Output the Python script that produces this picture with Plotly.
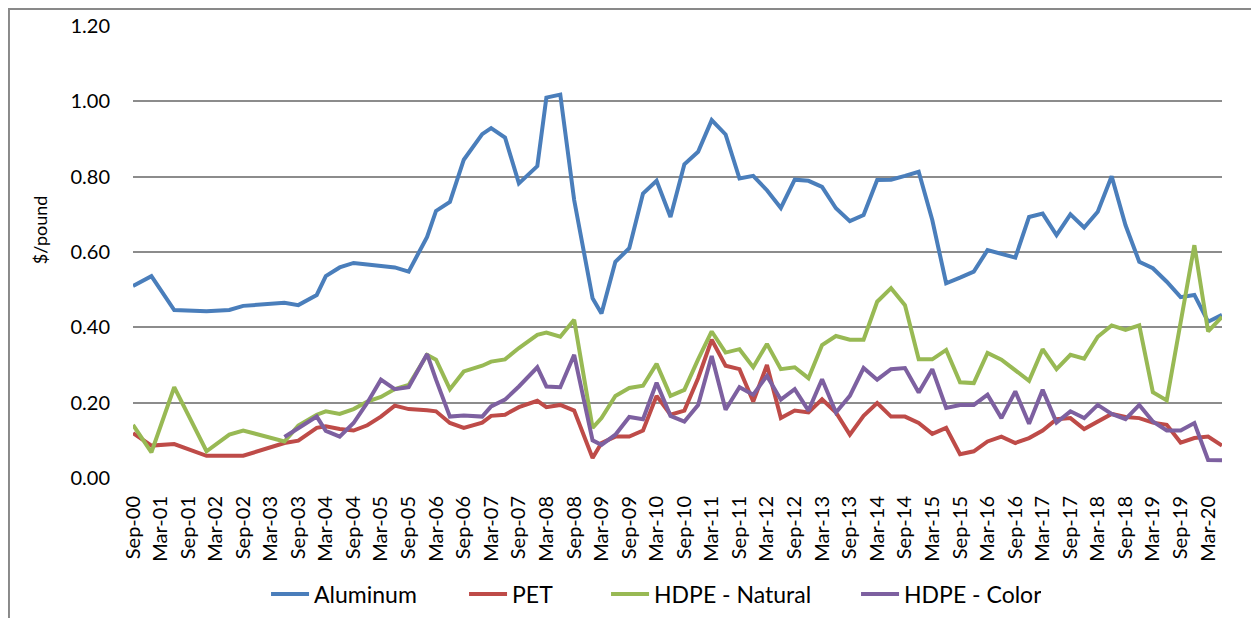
import plotly.graph_objects as go
import pandas as pd

DATES = ["2000-09", "2001-01", "2001-06", "2002-01", "2002-06", "2002-09", "2003-06", "2003-09",
         "2004-01", "2004-03", "2004-06", "2004-09", "2004-12", "2005-03", "2005-06", "2005-09",
         "2006-01", "2006-03", "2006-06", "2006-09", "2007-01", "2007-03", "2007-06", "2007-09",
         "2008-01", "2008-03", "2008-06", "2008-09", "2009-01", "2009-03", "2009-06", "2009-09",
         "2009-12", "2010-03", "2010-06", "2010-09", "2010-12", "2011-03", "2011-06", "2011-09",
         "2011-12", "2012-03", "2012-06", "2012-09", "2012-12", "2013-03", "2013-06", "2013-09",
         "2013-12", "2014-03", "2014-06", "2014-09", "2014-12", "2015-03", "2015-06", "2015-09",
         "2015-12", "2016-03", "2016-06", "2016-09", "2016-12", "2017-03", "2017-06", "2017-09",
         "2017-12", "2018-03", "2018-06", "2018-09", "2018-12", "2019-03", "2019-06", "2019-09",
         "2019-12", "2020-03", "2020-06"]

ALUMINUM = [0.510, 0.536, 0.446, 0.443, 0.446, 0.457, 0.465, 0.459,
            0.486, 0.536, 0.559, 0.571, 0.567, 0.564, 0.559, 0.548,
            0.640, 0.709, 0.733, 0.845, 0.913, 0.929, 0.904, 0.782,
            0.828, 1.010, 1.018, 0.738, 0.477, 0.437, 0.574, 0.610,
            0.755, 0.789, 0.693, 0.833, 0.866, 0.950, 0.912, 0.795,
            0.802, 0.764, 0.717, 0.792, 0.789, 0.773, 0.716, 0.682,
            0.698, 0.791, 0.792, 0.802, 0.813, 0.685, 0.517, 0.532,
            0.548, 0.605, 0.594, 0.585, 0.693, 0.702, 0.645, 0.700,
            0.665, 0.707, 0.801, 0.671, 0.574, 0.557, 0.521, 0.480,
            0.486, 0.415, 0.433]

PET = [0.119, 0.086, 0.090, 0.059, 0.059, 0.059, 0.093, 0.099,
       0.133, 0.137, 0.130, 0.126, 0.140, 0.163, 0.192, 0.183,
       0.180, 0.177, 0.146, 0.133, 0.147, 0.165, 0.168, 0.188,
       0.205, 0.188, 0.194, 0.179, 0.053, 0.093, 0.110, 0.110,
       0.126, 0.218, 0.168, 0.179, 0.265, 0.367, 0.298, 0.289,
       0.203, 0.300, 0.159, 0.179, 0.174, 0.209, 0.174, 0.115,
       0.165, 0.199, 0.163, 0.163, 0.146, 0.117, 0.133, 0.063,
       0.071, 0.097, 0.110, 0.093, 0.106, 0.126, 0.156, 0.159,
       0.130, 0.150, 0.170, 0.162, 0.159, 0.147, 0.141, 0.094,
       0.106, 0.110, 0.086]

HDPE_NATURAL = [0.141, 0.068, 0.241, 0.071, 0.115, 0.126, 0.097, 0.139,
                0.168, 0.177, 0.170, 0.183, 0.203, 0.215, 0.236, 0.247,
                0.327, 0.314, 0.236, 0.283, 0.298, 0.309, 0.315, 0.345,
                0.380, 0.386, 0.375, 0.420, 0.133, 0.159, 0.218, 0.239,
                0.245, 0.303, 0.218, 0.234, 0.315, 0.389, 0.333, 0.342,
                0.294, 0.356, 0.289, 0.294, 0.265, 0.353, 0.377, 0.367,
                0.367, 0.468, 0.504, 0.459, 0.315, 0.315, 0.340, 0.254,
                0.252, 0.332, 0.314, 0.286, 0.258, 0.342, 0.289, 0.327,
                0.317, 0.375, 0.405, 0.393, 0.405, 0.228, 0.206, None,
                0.618, 0.389, 0.428]

HDPE_COLOR = [None, None, None, None, None, None, 0.109, 0.133,
              0.163, 0.125, 0.110, 0.146, 0.200, 0.261, 0.236, 0.241,
              0.329, 0.261, 0.163, 0.166, 0.163, 0.190, 0.208, 0.243,
              0.294, 0.243, 0.241, 0.327, 0.100, 0.088, 0.115, 0.162,
              0.156, 0.253, 0.165, 0.150, 0.194, 0.324, 0.181, 0.241,
              0.221, 0.271, 0.208, 0.236, 0.179, 0.262, 0.174, 0.218,
              0.292, 0.261, 0.289, 0.292, 0.227, 0.289, 0.186, 0.194,
              0.194, 0.221, 0.159, 0.230, 0.144, 0.234, 0.147, 0.177,
              0.159, 0.194, 0.170, 0.156, 0.194, 0.150, 0.126, 0.126,
              0.146, 0.048, 0.047]

TICK_LABELS = ["Sep-00", "Mar-01", "Sep-01", "Mar-02", "Sep-02", "Mar-03", "Sep-03", "Mar-04",
               "Sep-04", "Mar-05", "Sep-05", "Mar-06", "Sep-06", "Mar-07", "Sep-07", "Mar-08",
               "Sep-08", "Mar-09", "Sep-09", "Mar-10", "Sep-10", "Mar-11", "Sep-11", "Mar-12",
               "Sep-12", "Mar-13", "Sep-13", "Mar-14", "Sep-14", "Mar-15", "Sep-15", "Mar-16",
               "Sep-16", "Mar-17", "Sep-17", "Mar-18", "Sep-18", "Mar-19", "Sep-19", "Mar-20"]

SERIES_NAMES = ["Aluminum", "PET", "HDPE - Natural", "HDPE - Color"]
SERIES_VALUES = [ALUMINUM, PET, HDPE_NATURAL, HDPE_COLOR]
SERIES_COLORS = ["#4A7EBB", "#BE4B48", "#98B954", "#7D60A0"]
LEGEND_WIDTHS = [145, 89, 197, 132]

x_dates = pd.to_datetime(DATES, format="%Y-%m")
tick_dates = pd.to_datetime(TICK_LABELS, format="%b-%y")

fig = go.Figure()
for name, vals, color, lw in zip(SERIES_NAMES, SERIES_VALUES, SERIES_COLORS, LEGEND_WIDTHS):
    fig.add_trace(go.Scatter(x=x_dates, y=vals, name=name, mode="lines",
                             line=dict(color=color, width=4), connectgaps=True,
                             legendwidth=lw))

FONT = "Lato, Carlito, Calibri, sans-serif"
GRID = "#8C8C8C"

fig.update_layout(
    width=1259, height=618,
    margin=dict(l=125, r=45, t=18, b=148, autoexpand=False),
    paper_bgcolor="white", plot_bgcolor="white",
    font=dict(family=FONT, color="#000000", size=20),
    showlegend=True,
    legend=dict(orientation="h", x=0.478, xanchor="center", y=-0.2566, yanchor="middle",
                font=dict(size=23, family=FONT), itemwidth=38, traceorder="normal",
                entrywidthmode="pixels"),
    xaxis=dict(type="date", range=[x_dates[0], x_dates[-1]],
               tickmode="array", tickvals=tick_dates, ticktext=TICK_LABELS,
               tickangle=-90, showgrid=False, zeroline=False, showline=False,
               ticks="", ticklabelstandoff=13, tickfont=dict(size=20), automargin=False),
    yaxis=dict(range=[0, 1.2], dtick=0.2, tick0=0, tickformat=".2f",
               showgrid=True, gridcolor=GRID, gridwidth=1.5, zeroline=False,
               showline=False, ticks="", ticklabelstandoff=22, tickfont=dict(size=20),
               automargin=False),
    annotations=[dict(text="$/pound", xref="paper", yref="paper", x=-0.0854, y=0.5506,
                      textangle=-90, showarrow=False, xanchor="center", yanchor="middle",
                      font=dict(size=18, family=FONT))],
    shapes=[dict(type="rect", xref="paper", yref="paper", x0=-0.1139, x1=1.0294,
                 y0=-0.34, y1=1.0376, line=dict(color="#898989", width=2), layer="below")],
)

fig.write_html("out.html")
